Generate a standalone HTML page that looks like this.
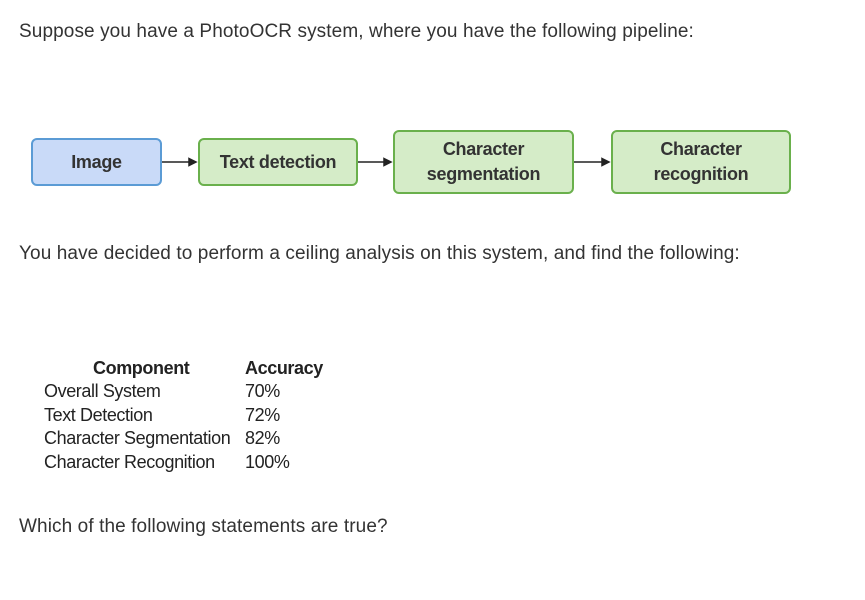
<!DOCTYPE html>
<html><head><meta charset="utf-8"><style>
body{margin:0;width:865px;height:600px;background:#fff;position:relative;font-family:"Liberation Sans",sans-serif;color:#333;}
.t{position:absolute;font-size:19px;white-space:nowrap;letter-spacing:0.1px;}
.b{position:absolute;box-sizing:border-box;border-radius:6px;display:flex;align-items:center;justify-content:center;text-align:center;font-size:18px;font-weight:bold;line-height:25px;color:#333;letter-spacing:-0.3px;}
.blue{background:#c9daf8;border:2px solid #5b9bd5;}
.green{background:#d5ecc8;border:2px solid #6ab04c;}
.tb{position:absolute;font-size:18px;color:#222;white-space:nowrap;letter-spacing:-0.4px;}
</style></head><body>
<div class="t" style="left:19px;top:21px">Suppose you have a PhotoOCR system, where you have the following pipeline:</div>
<div class="b blue" style="left:31px;top:138px;width:131px;height:48px">Image</div>
<div class="b green" style="left:198px;top:138px;width:160px;height:48px">Text detection</div>
<div class="b green" style="left:393px;top:130px;width:181px;height:64px">Character<br>segmentation</div>
<div class="b green" style="left:611px;top:130px;width:180px;height:64px">Character<br>recognition</div>
<svg style="position:absolute;left:0;top:0" width="865" height="600">
<g stroke="#222" stroke-width="1.5" fill="#222">
<line x1="162" y1="162" x2="192" y2="162"/><polygon points="189,158.5 196,162 189,165.5"/>
<line x1="358" y1="162" x2="387" y2="162"/><polygon points="384,158.5 391,162 384,165.5"/>
<line x1="574" y1="162" x2="605" y2="162"/><polygon points="602,158.5 609,162 602,165.5"/>
</g></svg>
<div class="t" style="left:19px;top:243px">You have decided to perform a ceiling analysis on this system, and find the following:</div>
<div class="tb" style="left:93px;top:358px;font-weight:bold">Component</div>
<div class="tb" style="left:245px;top:358px;font-weight:bold">Accuracy</div>
<div class="tb" style="left:44px;top:381px">Overall System</div><div class="tb" style="left:245px;top:381px">70%</div>
<div class="tb" style="left:44px;top:405px">Text Detection</div><div class="tb" style="left:245px;top:405px">72%</div>
<div class="tb" style="left:44px;top:428px">Character Segmentation</div><div class="tb" style="left:245px;top:428px">82%</div>
<div class="tb" style="left:44px;top:452px">Character Recognition</div><div class="tb" style="left:245px;top:452px">100%</div>
<div class="t" style="left:19px;top:516px">Which of the following statements are true?</div>
</body></html>
